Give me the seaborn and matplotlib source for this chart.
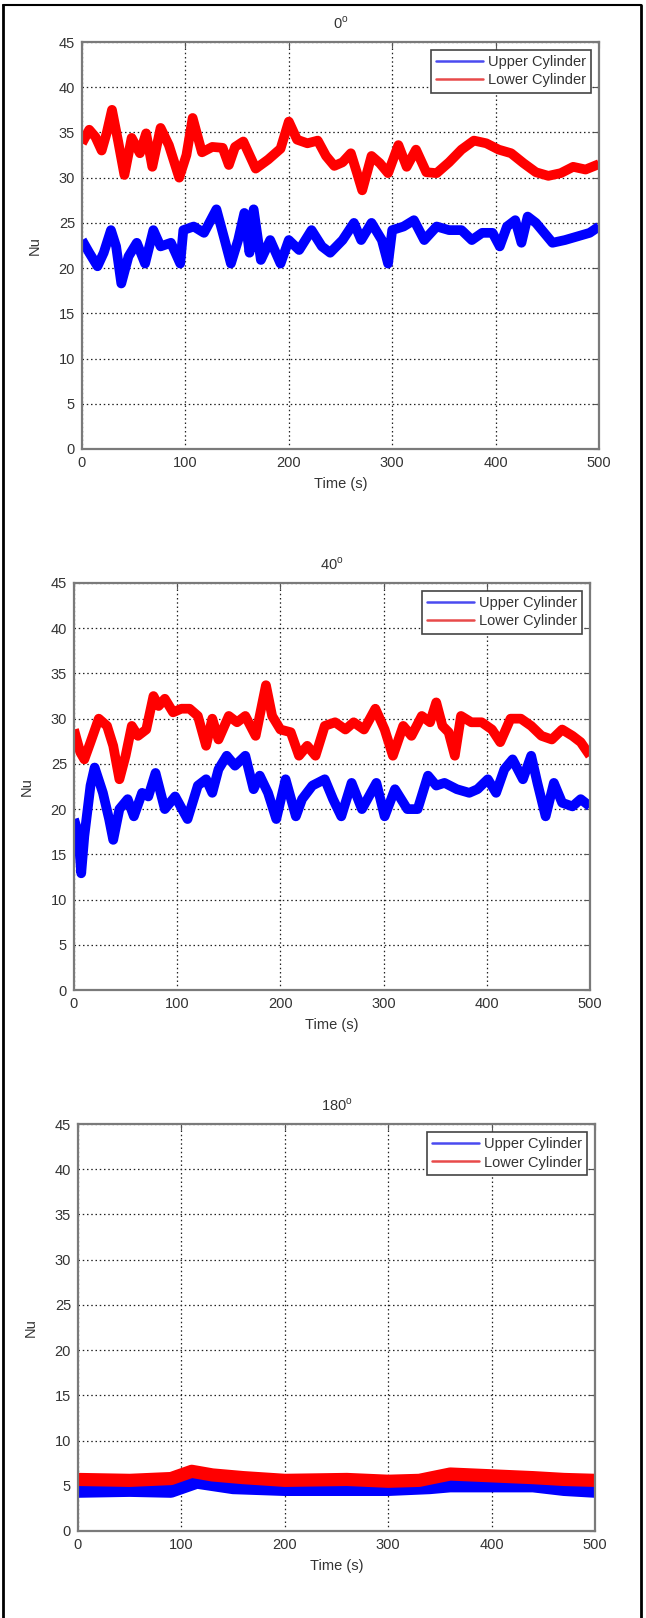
import matplotlib
matplotlib.use("Agg")
import matplotlib.pyplot as plt
from matplotlib.lines import Line2D
import pandas as pd
import seaborn as sns

# ---------------- data ----------------
series_names = ["Upper Cylinder", "Lower Cylinder"]
panel_titles = ["0$^{\\mathregular{o}}$", "40$^{\\mathregular{o}}$", "180$^{\\mathregular{o}}$"]
x_ticks = [0, 100, 200, 300, 400, 500]
y_ticks = [0, 5, 10, 15, 20, 25, 30, 35, 40, 45]

# 0 deg
upper0_t = [0, 7, 15, 21, 28, 33, 38, 45, 53, 61, 69, 76, 86, 95, 98, 108, 118, 130, 138, 144,
            151, 157, 162, 166, 173, 182, 192, 200, 210, 222, 232, 240, 252, 263, 270, 280, 290, 296, 300, 311,
            321, 331, 343, 355, 367, 377, 387, 397, 404, 411, 419, 425, 431, 439, 447, 455, 467, 479, 491, 500]
upper0_v = [23.1, 21.7, 20.2, 21.7, 24.2, 22.4, 18.3, 21.3, 22.8, 20.5, 24.2, 22.4, 22.8, 20.5, 24.2, 24.6, 23.9, 26.5, 23.1, 20.5,
            23.1, 26.1, 21.7, 26.5, 20.9, 23.1, 20.5, 23.1, 22.0, 24.2, 22.4, 21.7, 23.1, 25.0, 23.1, 25.0, 23.1, 20.5, 24.2, 24.6,
            25.3, 23.1, 24.6, 24.2, 24.2, 23.1, 23.9, 23.9, 22.4, 24.6, 25.3, 22.8, 25.7, 25.0, 23.9, 22.8, 23.1, 23.5, 23.9, 24.6]
lower0_t = [0, 7, 13, 19, 24, 29, 35, 41, 48, 56, 62, 68, 76, 84, 94, 101, 107, 116, 126, 136,
            142, 148, 156, 168, 180, 192, 200, 208, 218, 228, 236, 244, 252, 260, 266, 271, 280, 288, 296, 306,
            314, 323, 333, 343, 355, 367, 379, 391, 403, 415, 427, 439, 451, 463, 475, 487, 500]
lower0_v = [33.8, 35.3, 34.5, 33.0, 35.0, 37.5, 34.0, 30.3, 34.4, 32.7, 34.9, 31.2, 35.5, 33.6, 30.0, 32.5, 36.6, 32.8, 33.4, 33.3,
            31.4, 33.4, 34.0, 31.0, 32.0, 33.2, 36.2, 34.2, 33.8, 34.1, 32.4, 31.3, 31.7, 32.7, 30.5, 28.6, 32.4, 31.6, 30.5, 33.6,
            31.2, 33.1, 30.6, 30.5, 31.7, 33.1, 34.1, 33.8, 33.1, 32.7, 31.6, 30.6, 30.2, 30.5, 31.2, 30.9, 31.5]

# 40 deg
upper40_t = [0, 4, 7, 10, 16, 20, 28, 34, 38, 44, 52, 58, 66, 72, 79, 88, 98, 110, 120, 128,
             134, 140, 148, 156, 166, 174, 180, 188, 196, 205, 215, 221, 231, 243, 251, 259, 269, 279, 293, 301,
             311, 323, 333, 343, 351, 359, 371, 383, 391, 401, 409, 417, 425, 435, 443, 449, 457, 465, 473, 483,
             491, 500]
upper40_v = [18.9, 17.4, 12.9, 17.0, 22.6, 24.6, 21.8, 18.9, 16.6, 20.0, 21.1, 19.2, 21.8, 21.4, 24.0, 20.0, 21.4, 18.9, 22.6, 23.3,
             21.8, 24.4, 25.9, 24.8, 25.9, 22.2, 23.7, 21.8, 18.9, 23.3, 19.2, 21.1, 22.6, 23.3, 21.1, 19.2, 22.9, 20.0, 22.9, 19.2,
             22.2, 20.0, 20.0, 23.7, 22.6, 22.9, 22.2, 21.8, 22.2, 23.3, 21.8, 24.4, 25.5, 23.3, 25.9, 22.9, 19.2, 22.9, 20.7, 20.3,
             21.1, 20.3]
lower40_t = [0, 6, 10, 16, 24, 32, 38, 44, 50, 56, 62, 70, 77, 82, 88, 96, 104, 112, 120, 128,
             134, 140, 150, 158, 166, 176, 186, 192, 200, 210, 218, 226, 234, 243, 253, 263, 271, 281, 292, 301,
             309, 319, 327, 337, 345, 351, 357, 363, 369, 375, 385, 395, 405, 413, 423, 433, 443, 453, 463, 473,
             483, 491, 500]
lower40_v = [28.8, 26.3, 25.5, 27.4, 30.0, 29.2, 27.0, 23.3, 25.9, 29.2, 28.1, 28.8, 32.5, 31.4, 32.2, 30.7, 31.1, 31.1, 30.3, 27.0,
             30.0, 27.7, 30.3, 29.6, 30.3, 28.1, 33.7, 30.3, 28.8, 28.5, 25.9, 27.0, 25.9, 29.2, 29.6, 28.8, 29.6, 28.8, 31.1, 28.8,
             25.9, 29.2, 28.1, 30.3, 29.6, 31.8, 29.2, 28.5, 25.9, 30.3, 29.6, 29.6, 28.8, 27.4, 30.0, 30.0, 29.2, 28.1, 27.7, 28.8,
             28.1, 27.4, 25.9]

# 180 deg
upper180_t = [0, 50, 90, 115, 150, 200, 260, 300, 340, 360, 400, 440, 470, 500]
upper180_v = [4.4, 4.5, 4.4, 5.4, 4.8, 4.6, 4.6, 4.6, 4.8, 5.0, 5.0, 5.0, 4.6, 4.4]
lower180_t = [0, 50, 90, 110, 130, 160, 200, 260, 300, 330, 360, 400, 440, 470, 500]
lower180_v = [5.7, 5.6, 5.8, 6.6, 6.2, 5.9, 5.6, 5.7, 5.5, 5.6, 6.3, 6.1, 5.9, 5.7, 5.6]

panels = [
    (upper0_t, upper0_v, lower0_t, lower0_v),
    (upper40_t, upper40_v, lower40_t, lower40_v),
    (upper180_t, upper180_v, lower180_t, lower180_v),
]

# ---------------- styling ----------------
sns.set_theme(style="white")
plt.rcParams["font.family"] = ["Liberation Sans", "DejaVu Sans"]

W, H = 646, 1618
fig = plt.figure(figsize=(W / 100, H / 100), dpi=100)
fig.patch.set_facecolor("white")

# axes boxes in pixels: left, right, top, bottom
boxes = [(82, 599, 42, 449), (74, 590, 583, 990), (78, 595, 1124, 1531)]
line_widths = [7.0, 7.0, 9.5]
palette = {"Upper Cylinder": "#0000ff", "Lower Cylinder": "#ff0000"}
text_col = "#333333"

for (l, r, t, b), (ut, uv, lt, lv), title, lw in zip(boxes, panels, panel_titles, line_widths):
    ax = fig.add_axes([l / W, (H - b) / H, (r - l) / W, (b - t) / H])
    df = pd.concat([
        pd.DataFrame({"Time": ut, "Nu": uv, "Series": series_names[0]}),
        pd.DataFrame({"Time": lt, "Nu": lv, "Series": series_names[1]}),
    ], ignore_index=True)
    sns.lineplot(data=df, x="Time", y="Nu", hue="Series", palette=palette,
                 linewidth=lw, estimator=None, legend=False, ax=ax)
    for ln in ax.lines:
        ln.set_solid_joinstyle("round")
        ln.set_solid_capstyle("butt")
    ax.set_xlim(0, 500)
    ax.set_ylim(0, 45)
    ax.set_xticks(x_ticks)
    ax.set_yticks(y_ticks)
    ax.grid(True, color="#222222", linestyle=(0, (1.2, 2.2)), linewidth=0.9)
    ax.set_axisbelow(True)
    for sp in ax.spines.values():
        sp.set_visible(True)
        sp.set_color("#7a7a7a")
        sp.set_linewidth(1.6)
    ax.tick_params(direction="in", length=4, width=0.8, top=True, right=True,
                   labelsize=10.5, colors="#555555", labelcolor=text_col, pad=5)
    ax.set_title(title, fontsize=10.5, color=text_col, pad=10)
    ax.set_xlabel("Time (s)", fontsize=10.5, color=text_col, labelpad=5)
    ax.set_ylabel("Nu", fontsize=10.5, color=text_col, labelpad=12)

    handles = [Line2D([0], [0], color="#4a4af0", lw=1.8),
               Line2D([0], [0], color="#e84a4a", lw=1.8)]
    leg = ax.legend(handles, series_names, loc="upper right", fontsize=10.5,
                    frameon=True, fancybox=False, framealpha=1, edgecolor="#444444",
                    borderaxespad=0.55, handlelength=3.2, handletextpad=0.35,
                    labelspacing=0.3, borderpad=0.35)
    leg.get_frame().set_linewidth(1.2)
    for txt in leg.get_texts():
        txt.set_color(text_col)

# outer frame (left, top, right)
fig.add_artist(Line2D([3.3 / W, 3.3 / W], [0, 1 - 4.5 / H], transform=fig.transFigure, color="black", lw=2))
fig.add_artist(Line2D([641 / W, 641 / W], [0, 1 - 4.5 / H], transform=fig.transFigure, color="black", lw=2))
fig.add_artist(Line2D([3.3 / W, 641 / W], [1 - 4.5 / H, 1 - 4.5 / H], transform=fig.transFigure, color="black", lw=1.5))

fig.savefig("out.png", dpi=100)
